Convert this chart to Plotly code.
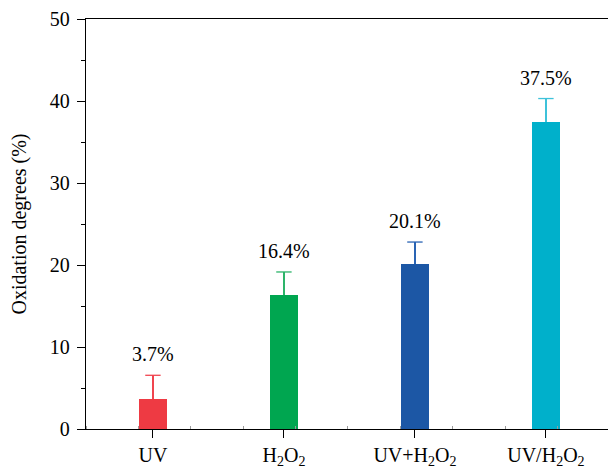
import plotly.graph_objects as go

# Oxidation degree for each treatment
treatments = ["UV", "H<sub>2</sub>O<sub>2</sub>", "UV+H<sub>2</sub>O<sub>2</sub>", "UV/H<sub>2</sub>O<sub>2</sub>"]
oxidation = [3.7, 16.4, 20.1, 37.5]
errors = [2.85, 2.75, 2.7, 2.8]
bar_colors = ["#EE3A43", "#00A650", "#1C57A5", "#00B0CB"]
err_colors = ["#F0454F", "#2DB46A", "#2A64B4", "#3EC2DA"]
y_ticks = [0, 10, 20, 30, 40, 50]

FONT = "Liberation Serif"
positions = list(range(len(treatments)))
tops = [v + e for v, e in zip(oxidation, errors)]

fig = go.Figure()
for i, (x, v, e) in enumerate(zip(positions, oxidation, errors)):
    # bar with an upward-only error stem (caps drawn separately)
    fig.add_trace(go.Bar(
        x=[x], y=[v], width=0.21,
        marker=dict(color=bar_colors[i], line=dict(width=0)),
        error_y=dict(type="data", array=[e], arrayminus=[0], symmetric=False,
                     color=err_colors[i], thickness=1.3, width=0),
        showlegend=False,
    ))
    # cap at the top of the error stem
    fig.add_trace(go.Scatter(
        x=[x], y=[tops[i]], mode="markers",
        marker=dict(symbol="line-ew-open", size=11, color=err_colors[i],
                    line=dict(color=err_colors[i], width=1.3)),
        showlegend=False, hoverinfo="skip",
    ))
    fig.add_annotation(x=x, y=tops[i], text=f"{v}%", showarrow=False,
                       yanchor="middle", yshift=21,
                       font=dict(family=FONT, size=20, color="black"))

fig.update_layout(
    width=608, height=469,
    margin=dict(l=86, r=0, t=19, b=37),
    plot_bgcolor="white", paper_bgcolor="white",
    font=dict(family=FONT, size=20, color="black"),
    bargap=0,
)
fig.update_xaxes(
    range=[-0.511, 3.474],
    tickmode="array", tickvals=positions, ticktext=treatments,
    ticks="outside", ticklen=8, tickwidth=1.3, tickcolor="black",
    showline=True, linecolor="black", linewidth=1.3, mirror=True,
    showgrid=False, zeroline=False,
    tickfont=dict(family=FONT, size=20, color="black"),
    minor=dict(tickmode="linear", tick0=-0.511, dtick=0.4, ticks="inside",
               ticklen=3, tickwidth=1, tickcolor="#9a9a9a", showgrid=False),
)
fig.update_yaxes(
    range=[0, 50],
    tickmode="array", tickvals=y_ticks,
    ticks="outside", ticklen=8, tickwidth=1.3, tickcolor="black",
    showline=True, linecolor="black", linewidth=1.3, mirror=False,
    showgrid=False, zeroline=False,
    tickfont=dict(family=FONT, size=20, color="black"),
    minor=dict(tickmode="linear", tick0=0, dtick=5, ticks="outside",
               ticklen=4, tickwidth=1.3, tickcolor="black", showgrid=False),
    ticklabelstandoff=3,
    title=dict(text="Oxidation degrees (%)", standoff=17,
               font=dict(family=FONT, size=20, color="black")),
)

fig.write_html("out.html")
